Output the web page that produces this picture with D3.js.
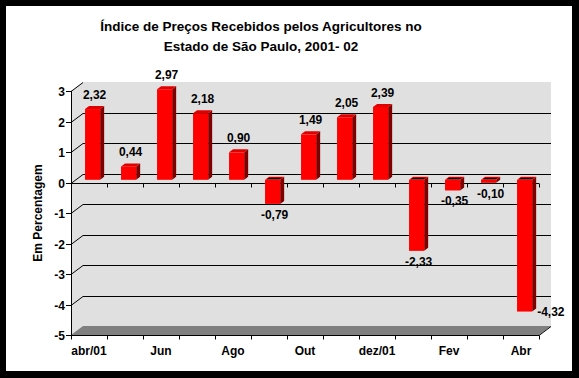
<!DOCTYPE html>
<html>
<head>
<meta charset="utf-8">
<script src="https://cdn.jsdelivr.net/npm/d3@7"></script>
<style>
  body { margin: 0; background: #000; }
  svg { display: block; }
  text { font-family: Arial, "Liberation Sans", sans-serif; font-weight: bold; fill: #000; }
</style>
</head>
<body>
<svg id="chart" width="579" height="378"></svg>
<script>
// chart data
const categories = ["abr/01", "Mai", "Jun", "Jul", "Ago", "Set", "Out", "Nov", "dez/01", "Jan", "Fev", "Mar", "Abr"];
const values = [2.32, 0.44, 2.97, 2.18, 0.90, -0.79, 1.49, 2.05, 2.39, -2.33, -0.35, -0.10, -4.32];
const shownCategories = ["abr/01", "Jun", "Ago", "Out", "dez/01", "Fev", "Abr"];
const yTicks = [3, 2, 1, 0, -1, -2, -3, -4, -5];
const titleLines = ["Índice de Preços Recebidos pelos Agricultores no", "Estado de São Paulo, 2001- 02"];
const yTitle = "Em Percentagem";

const svg = d3.select("#chart");

// frame: white card on black
svg.append("rect").attr("x", 0).attr("y", 0).attr("width", 579).attr("height", 378).attr("fill", "#000");
svg.append("rect").attr("x", 6).attr("y", 6).attr("width", 566).attr("height", 365).attr("fill", "#fff");

const x = d3.scaleBand().domain(categories).range([71, 539]);
const y = d3.scaleLinear().domain([-5, 3]).range([335, 91]);

// depth of the 3d box and of the bars
const DX = 12, DY = -9;
const BX = 3.6, BY = -2.7;     // front face of bar
const BDX = 4, BDY = -3;       // bar thickness

const locale = d3.formatLocale({decimal: ",", thousands: ".", grouping: [3], currency: ["", ""], minus: "-"});
const fmt = locale.format(".2f");
const tickFmt = locale.format("d");

const x0 = x.range()[0], x1 = x.range()[1];
const yTop = y(3), yBot = y(-5);

// walls
svg.append("path")
    .attr("d", d3.line()([[x0, yTop], [x0 + DX, yTop + DY], [x1 + DX, yTop + DY], [x1 + DX, yBot + DY], [x1, yBot], [x0, yBot]]) + "Z")
    .attr("fill", "#e0e0e0");
// floor
svg.append("path")
    .attr("d", d3.line()([[x0, yBot], [x0 + DX, yBot + DY], [x1 + DX, yBot + DY], [x1, yBot]]) + "Z")
    .attr("fill", "#808080");

// gridlines
const grid = svg.append("g").attr("stroke", "#000").attr("stroke-width", 1).attr("fill", "none");
yTicks.filter(t => t > -5).forEach(t => {
    const pts = [[x0, y(t)], [x0 + DX, y(t) + DY]];
    if (t < 3) pts.push([x1 + DX, y(t) + DY]);
    grid.append("path").attr("d", d3.line()(pts.map(p => [p[0], Math.round(p[1]) + 0.5])));
});

// category axis at zero (behind bars) and at floor
function catAxis(yy) {
    const g = svg.append("g").attr("stroke", "#000").attr("stroke-width", 1);
    const yl = Math.round(yy) + 0.5;
    g.append("line").attr("x1", x0).attr("x2", x1).attr("y1", yl).attr("y2", yl);
    categories.forEach(c => {
        const xx = Math.round(x(c)) + 0.5;
        g.append("line").attr("x1", xx).attr("x2", xx).attr("y1", yl).attr("y2", yl + 4);
    });
    g.append("line").attr("x1", x1 + 0.5).attr("x2", x1 + 0.5).attr("y1", yl).attr("y2", yl + 4);
    return g;
}
catAxis(y(0));
const floorAxis = catAxis(yBot);
floorAxis.append("line").attr("x1", x1).attr("y1", yBot + 0.5).attr("x2", x1 + DX).attr("y2", yBot + DY + 0.5);

// bars
const w = x.bandwidth() * 0.42;
const bars = svg.append("g");
categories.forEach((c, i) => {
    const v = values[i];
    const bx = x(c) + (x.bandwidth() - w) / 2 + BX;
    const yA = y(Math.max(v, 0)) + BY, yB = y(Math.min(v, 0)) + BY;
    const g = bars.append("g");
    // side
    g.append("path")
        .attr("d", d3.line()([[bx + w, yA], [bx + w + BDX, yA + BDY], [bx + w + BDX, yB + BDY], [bx + w, yB]]) + "Z")
        .attr("fill", "#800000");
    // top
    const top = [[bx, yA], [bx + BDX, yA + BDY], [bx + w + BDX, yA + BDY], [bx + w, yA]];
    g.append("path").attr("d", d3.line()(top) + "Z").attr("fill", v >= 0 ? "#e00000" : "#ff0000");
    if (v < 0) {
        g.append("path")
            .attr("d", d3.line()([[bx + 1.5, yA - 0.5], [bx + BDX, yA + BDY + 1], [bx + w + BDX - 1.5, yA + BDY + 1], [bx + w - 1, yA - 0.5]]) + "Z")
            .attr("fill", "#000");
    }
    // front
    g.append("rect").attr("x", bx).attr("y", yA).attr("width", w).attr("height", yB - yA).attr("fill", "#ff0000");

    // value label
    const cx = bx + w / 2 + 2;
    const lab = g.append("text").attr("font-size", 12).text(fmt(v));
    if (v >= 0) {
        lab.attr("x", cx).attr("y", yA + BDY - 7).attr("text-anchor", "middle");
    } else if (yB + 17 > yBot + DY) {
        lab.attr("x", bx + w + BDX + 1).attr("y", yB + 4).attr("text-anchor", "start");
    } else {
        lab.attr("x", cx).attr("y", yB + 15).attr("text-anchor", "middle");
    }
});

// value axis
const ya = svg.append("g");
ya.append("line").attr("x1", x0 + 0.5).attr("x2", x0 + 0.5).attr("y1", yTop).attr("y2", yBot).attr("stroke", "#000");
yTicks.forEach(t => {
    const yy = Math.round(y(t)) + 0.5;
    ya.append("line").attr("x1", x0 - 5).attr("x2", x0).attr("y1", yy).attr("y2", yy).attr("stroke", "#000");
    ya.append("text").attr("x", x0 - 6).attr("y", yy + 4).attr("text-anchor", "end").attr("font-size", 12).text(tickFmt(t));
});

// category labels
shownCategories.forEach(c => {
    svg.append("text").attr("x", x(c) + x.bandwidth() / 2).attr("y", 355)
        .attr("text-anchor", "middle").attr("font-size", 12).text(c);
});

// titles
titleLines.forEach((t, i) => {
    svg.append("text").attr("x", 261).attr("y", 31 + i * 20)
        .attr("text-anchor", "middle").attr("font-size", 13.5).text(t);
});
svg.append("text")
    .attr("transform", "translate(42," + (y(-1)) + ") rotate(-90)")
    .attr("text-anchor", "middle").attr("font-size", 12).text(yTitle);
</script>
</body>
</html>
